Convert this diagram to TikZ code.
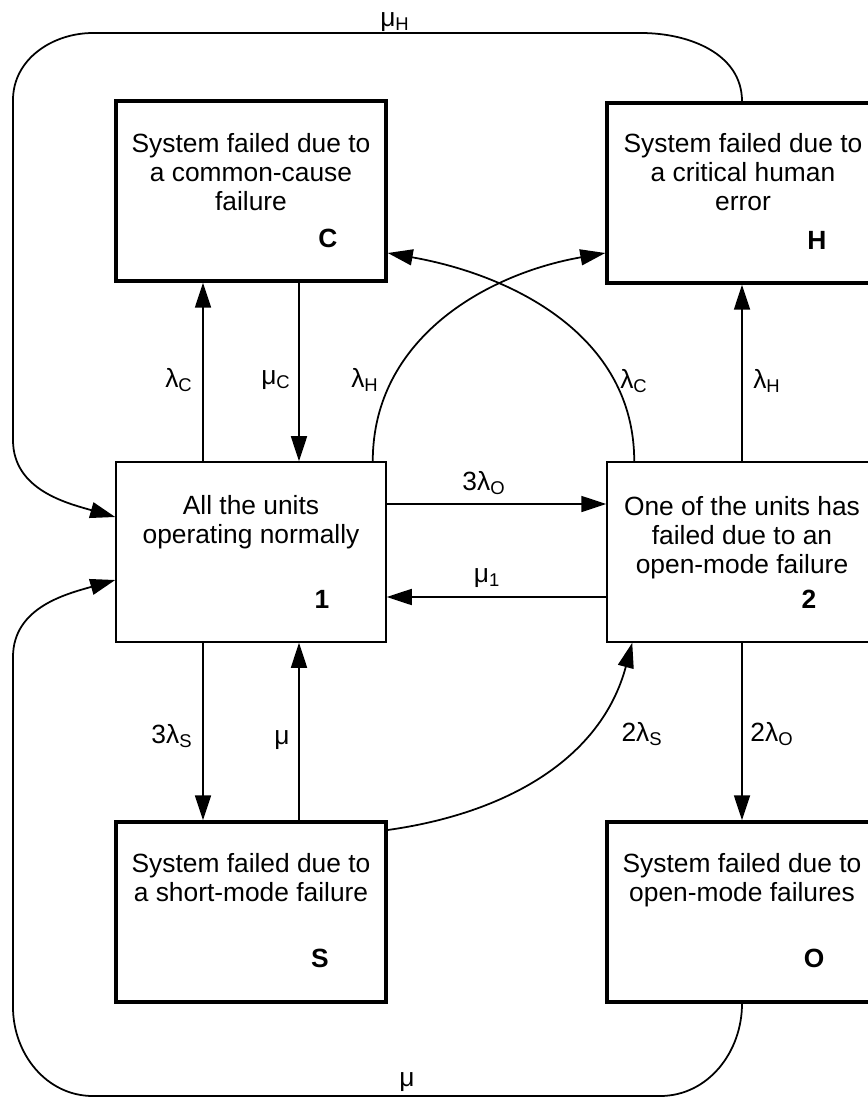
\documentclass[tikz,border=0pt]{standalone}
\usepackage{fontspec}
\setmainfont{Liberation Sans}
\usepackage{tikz}
\usetikzlibrary{arrows.meta,calc}
\newcommand{\rt}[2]{#1\textsubscript{#2}}

\begin{document}
\begin{tikzpicture}[x=0.02cm, y=-0.02cm,
  state/.style={rectangle, draw, line width=0.9pt,
                minimum width=5.4cm, minimum height=3.6cm, inner sep=0pt},
  absorb/.style={state, line width=2pt},
  txt/.style={anchor=north, align=center, inner sep=0pt,
              font=\fontsize{15}{16.4}\selectfont},
  tag/.style={anchor=base, inner sep=0pt, font=\fontsize{15}{18}\selectfont\bfseries},
  rate/.style={inner sep=0pt, font=\fontsize{15}{18}\selectfont},
  arr/.style={-{Triangle[length=0.5cm, width=0.32cm]}, line width=1pt},
]
  \fill[white] (0,0) rectangle (868,1098);
  \clip (0,0) rectangle (868,1098);

  % states
  \node[absorb] (C) at (251,191) {};
  \node[absorb] (H) at (742,193) {};
  \node[state] (one) at (251,552) {};
  \node[state] (two) at (742,552) {};
  \node[absorb] (S) at (251,912) {};
  \node[absorb] (O) at (742,912) {};

  \node[txt] (tC) at (251,133) {System failed due to\\a common-cause\\failure};
  \node[tag] (kC) at (328,247) {C};
  \node[txt] (tH) at (743,133) {System failed due to\\a critical human\\error};
  \node[tag] (kH) at (817,250) {H};
  \node[txt] (t1) at (251,495) {All the units\\operating normally};
  \node[tag] (k1) at (322,608) {1};
  \node[txt] (t2) at (742,496) {One of the units has\\failed due to an\\open-mode failure};
  \node[tag] (k2) at (809,608) {2};
  \node[txt] (tS) at (251,853) {System failed due to\\a short-mode failure};
  \node[tag] (kS) at (320,967) {S};
  \node[txt] (tO) at (742,853) {System failed due to\\open-mode failures};
  \node[tag] (kO) at (814,967) {O};

  % transitions
  \draw[arr] ($(one.north)+(-48,0)$) -- ($(C.south)+(-48,0)$);
  \draw[arr] ($(C.south)+(48,0)$) -- ($(one.north)+(48,0)$);
  \draw[arr] ($(one.north east)+(-14,0)$) to[out=90,in=190] ($(H.west)+(0,60)$);
  \draw[arr] ($(two.north west)+(28,0)$) to[out=90,in=-10] ($(C.east)+(0,62)$);
  \draw[arr] (two.north) -- (H.south);
  \draw[arr] ($(one.east)+(0,-48)$) -- ($(two.west)+(0,-48)$);
  \draw[arr] ($(two.west)+(0,45)$) -- ($(one.east)+(0,45)$);
  \draw[arr] ($(one.south)+(-48,0)$) -- ($(S.north)+(-48,0)$);
  \draw[arr] ($(S.north)+(48,0)$) -- ($(one.south)+(48,0)$);
  \draw[arr] ($(S.east)+(0,-82)$) to[out=8,in=-105] ($(two.south west)+(26,0)$);
  \draw[arr] (two.south) -- (O.north);

  % repairs back to 1
  \draw[arr] (H.north) to[out=90,in=0] (641,33) -- (93,33)
    to[out=180,in=90] (13,100) -- (13,440)
    to[out=-90,in=164] ($(one.west)+(0,-35)$);
  \draw[arr] (O.south) to[out=-90,in=0] (660,1096) -- (93,1096)
    to[out=180,in=-90] (13,1007) -- (13,657)
    to[out=90,in=196] ($(one.west)+(0,28)$);

  % rates
  \node[rate] (lC) at (179,380) {\rt{λ}{C}};
  \node[rate] (mC) at (276,380) {\rt{μ}{C}};
  \node[rate] (lH) at (365,380) {\rt{λ}{H}};
  \node[rate] (lC2) at (634,381) {\rt{λ}{C}};
  \node[rate] (lH2) at (767,381) {\rt{λ}{H}};
  \node[rate] (lO3) at (484,483) {3\rt{λ}{O}};
  \node[rate] (m1) at (487,578) {\rt{μ}{1}};
  \node[rate] (lS3) at (172,736) {3\rt{λ}{S}};
  \node[rate] (m) at (282,740) {μ};
  \node[rate] (lS2) at (642,734) {2\rt{λ}{S}};
  \node[rate] (lO2) at (772,734) {2\rt{λ}{O}};
  \node[rate] (mH) at (395,22) {\rt{μ}{H}};
  \node[rate] (mS) at (407,1082) {μ};
\end{tikzpicture}
\end{document}
